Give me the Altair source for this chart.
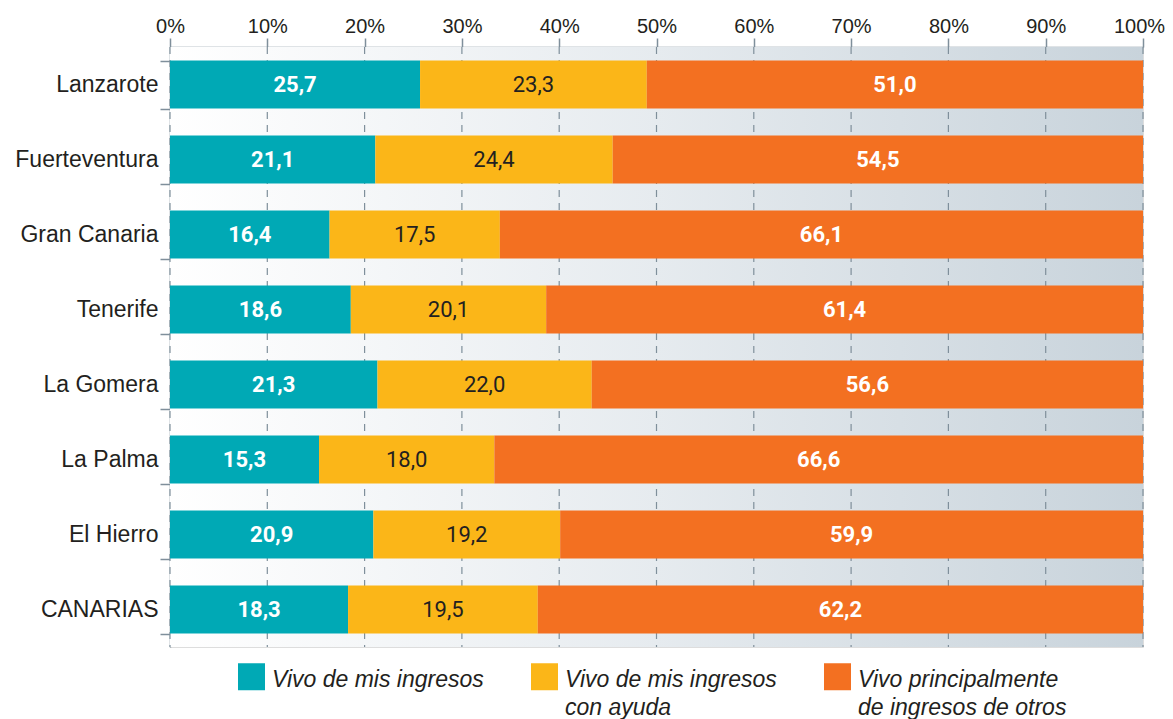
import altair as alt
import pandas as pd

islands = ["Lanzarote", "Fuerteventura", "Gran Canaria", "Tenerife",
           "La Gomera", "La Palma", "El Hierro", "CANARIAS"]
own = [25.7, 21.1, 16.4, 18.6, 21.3, 15.3, 20.9, 18.3]
helped = [23.3, 24.4, 17.5, 20.1, 22.0, 18.0, 19.2, 19.5]
others = [51.0, 54.5, 66.1, 61.4, 56.6, 66.6, 59.9, 62.2]

series_lines = [["Vivo de mis ingresos", ""],
                ["Vivo de mis ingresos", "con ayuda"],
                ["Vivo principalmente", "de ingresos de otros"]]
series = [" ".join(l).strip() for l in series_lines]
colors = ["#00a9b5", "#fbb618", "#f37021"]
ticks = [0, 10, 20, 30, 40, 50, 60, 70, 80, 90, 100]

rows = []
for i, isl in enumerate(islands):
    for k, vals in enumerate([own, helped, others]):
        v = vals[i]
        rows.append({"isla": isl, "serie": series[k], "orden": k, "valor": v,
                     "etiqueta": f"{v:.1f}".replace(".", ","),
                     "claro": k != 1})
df = pd.DataFrame(rows)
df_ticks = pd.DataFrame({"t": [t / 100 for t in ticks]})

W, H = 973, 600
GRID = "#7f8f9b"
TXT = "#231f20"
DY = -8

label_expr = " : ".join(
    f"datum.label == '{s}' ? {l!r}" for s, l in zip(series, series_lines)
) + " : datum.label"

yscale = alt.Scale(domain=islands, paddingInner=0.36, paddingOuter=0.18)
xscale = alt.Scale(domain=[0, 1], nice=False, zero=True)

bg = alt.Chart(df_ticks).mark_rect(
    color=alt.Gradient(
        gradient="linear", x1=0, x2=1, y1=0, y2=0,
        stops=[alt.GradientStop(color="#ffffff", offset=0),
               alt.GradientStop(color="#e6ebef", offset=0.5),
               alt.GradientStop(color="#c8d3db", offset=1)])
).encode(x=alt.value(0), x2=alt.value(W), y=alt.value(0), y2=alt.value(H))

grid = alt.Chart(df_ticks).mark_rule(
    color=GRID, strokeWidth=1.2, strokeDash=[7, 6]
).encode(x=alt.X("t:Q", scale=xscale), y=alt.value(0), y2=alt.value(H))

base = alt.Chart(df).transform_stack(
    stack="valor", groupby=["isla"], as_=["s0", "s1"],
    offset="normalize", sort=[alt.SortField("orden", order="ascending")]
).transform_calculate(mid="(datum.s0 + datum.s1) / 2")

bars = base.mark_bar(cornerRadius=0).encode(
    y=alt.Y("isla:N", scale=yscale, sort=islands, title=None,
            axis=alt.Axis(orient="left", tickBand="extent", tickSize=10,
                          tickColor=GRID, domainColor=GRID, tickWidth=1.5,
                          domainWidth=1.5, labelFontSize=23,
                          labelFont="Liberation Sans", labelColor=TXT,
                          labelPadding=2, labelOffset=-DY, grid=False)),
    x=alt.X("s0:Q", scale=xscale, title=None,
            axis=alt.Axis(orient="top", values=[t / 100 for t in ticks],
                          format=".0%", tickSize=9, tickColor=GRID,
                          domainColor=GRID, tickWidth=1.5, domainWidth=1.5,
                          labelFontSize=20, labelFont="Liberation Sans",
                          labelColor=TXT, labelPadding=-6, grid=False,
                          labelFlush=False,
                          labelOffset={"condition": {"test": "datum.value >= 1", "value": -4},
                                       "value": 0})),
    x2="s1:Q",
    color=alt.Color("serie:N", sort=series,
                    scale=alt.Scale(domain=series, range=colors),
                    legend=alt.Legend(
                        title=None, orient="none", legendX=68, legendY=616,
                        direction="horizontal", columns=3, gridAlign="all",
                        symbolType="square", symbolSize=729,
                        symbolStrokeWidth=0, symbolOpacity=1,
                        labelFontSize=23, labelFont="Liberation Sans",
                        labelFontStyle="italic", labelColor=TXT,
                        labelOffset=7, columnPadding=47, labelLimit=400,
                        labelBaseline="top", labelExpr=label_expr)),
)

txt_light = base.transform_filter("datum.claro").mark_text(
    color="white", fontWeight="bold", fontSize=22, font="Roboto"
).encode(x=alt.X("mid:Q", scale=xscale), y=alt.Y("isla:N", scale=yscale, sort=islands),
         text="etiqueta:N")

txt_dark = base.transform_filter("!datum.claro").mark_text(
    color=TXT, fontSize=22, font="Roboto"
).encode(x=alt.X("mid:Q", scale=xscale), y=alt.Y("isla:N", scale=yscale, sort=islands),
         text="etiqueta:N")

chart = alt.layer(bg, grid, bars, txt_light, txt_dark).properties(
    width=W, height=H,
    autosize=alt.AutoSizeParams(type="none"),
    padding={"left": 162, "top": 39, "right": 22, "bottom": 72},
).configure_view(
    stroke=GRID, strokeWidth=1.5
).configure(
    background="white",
    style={"guide-label": {"lineHeight": 28, "dy": DY}},
)

chart.save("out.html", embed_options={"renderer": "svg", "actions": False})
